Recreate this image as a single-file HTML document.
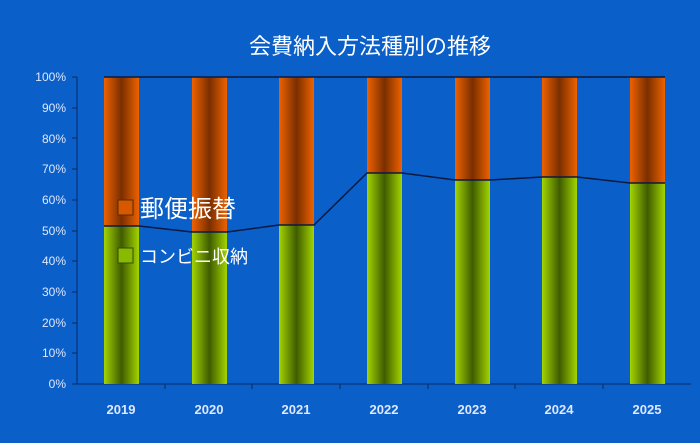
<!DOCTYPE html>
<html><head><meta charset="utf-8"><style>
body{margin:0;background:#0a5fc8;}
svg{display:block;font-family:"Liberation Sans","Noto Sans CJK JP",sans-serif;}
</style></head><body>
<svg width="700" height="443" viewBox="0 0 700 443" xmlns="http://www.w3.org/2000/svg">
<defs>
<linearGradient id="o" x1="0" x2="1" y1="0" y2="0">
<stop offset="0" stop-color="#ee6200"/><stop offset="0.5" stop-color="#7a2e00"/><stop offset="1" stop-color="#ee6200"/></linearGradient>
<linearGradient id="g" x1="0" x2="1" y1="0" y2="0">
<stop offset="0" stop-color="#a4d400"/><stop offset="0.5" stop-color="#3f5c00"/><stop offset="1" stop-color="#a4d400"/></linearGradient>
</defs>
<rect width="700" height="443" fill="#0a5fc8"/>
<text x="370" y="54" fill="#fff" font-size="22" text-anchor="middle">会費納入方法種別の推移</text>
<g fill="#dfe8ff" font-size="12" text-anchor="end">
<text x="66" y="388">0%</text><text x="66" y="357">10%</text><text x="66" y="327">20%</text><text x="66" y="296">30%</text><text x="66" y="265">40%</text><text x="66" y="235">50%</text><text x="66" y="204">60%</text><text x="66" y="173">70%</text><text x="66" y="143">80%</text><text x="66" y="112">90%</text><text x="66" y="81">100%</text>
</g>
<g stroke="#0b2a66" stroke-width="1">
<line x1="77" y1="77" x2="77" y2="384"/><line x1="77" y1="384" x2="691" y2="384"/>
<line x1="72" y1="77" x2="77" y2="77"/><line x1="72" y1="108" x2="77" y2="108"/><line x1="72" y1="138" x2="77" y2="138"/><line x1="72" y1="169" x2="77" y2="169"/><line x1="72" y1="200" x2="77" y2="200"/><line x1="72" y1="231" x2="77" y2="231"/><line x1="72" y1="261" x2="77" y2="261"/><line x1="72" y1="292" x2="77" y2="292"/><line x1="72" y1="323" x2="77" y2="323"/><line x1="72" y1="353" x2="77" y2="353"/><line x1="72" y1="384" x2="77" y2="384"/>
<line x1="165" y1="384" x2="165" y2="389"/><line x1="252" y1="384" x2="252" y2="389"/><line x1="340" y1="384" x2="340" y2="389"/><line x1="428" y1="384" x2="428" y2="389"/><line x1="515" y1="384" x2="515" y2="389"/><line x1="603" y1="384" x2="603" y2="389"/>
</g>
<g>
<rect x="104" y="77" width="35" height="149" fill="url(#o)"/><rect x="104" y="226" width="35" height="158" fill="url(#g)"/>
<rect x="192" y="77" width="35" height="155" fill="url(#o)"/><rect x="192" y="232" width="35" height="152" fill="url(#g)"/>
<rect x="279" y="77" width="35" height="148" fill="url(#o)"/><rect x="279" y="225" width="35" height="159" fill="url(#g)"/>
<rect x="367" y="77" width="35" height="96" fill="url(#o)"/><rect x="367" y="173" width="35" height="211" fill="url(#g)"/>
<rect x="455" y="77" width="35" height="103" fill="url(#o)"/><rect x="455" y="180" width="35" height="204" fill="url(#g)"/>
<rect x="542" y="77" width="35" height="100" fill="url(#o)"/><rect x="542" y="177" width="35" height="207" fill="url(#g)"/>
<rect x="630" y="77" width="35" height="106" fill="url(#o)"/><rect x="630" y="183" width="35" height="201" fill="url(#g)"/>
</g>
<g stroke="#0b1a40" stroke-width="1.5" fill="none">
<polyline points="104,77 665,77"/>
<polyline points="104,226 139,226 192,232 227,232 279,225 314,225 367,173 402,173 455,180 490,180 542,177 577,177 630,183 665,183"/>
</g>
<rect x="118" y="200" width="15" height="15" fill="#d85800" stroke="#5a2a00" stroke-width="1"/>
<text x="140" y="217" fill="#fff" font-size="24">郵便振替</text>
<rect x="118" y="248" width="15" height="15" fill="#88bb00" stroke="#3a4a00" stroke-width="1"/>
<text x="140" y="263" fill="#fff" font-size="18">コンビニ収納</text>
<g fill="#dfe8ff" font-size="13" font-weight="bold" text-anchor="middle">
<text x="121" y="414">2019</text><text x="209" y="414">2020</text><text x="296" y="414">2021</text><text x="384" y="414">2022</text><text x="472" y="414">2023</text><text x="559" y="414">2024</text><text x="647" y="414">2025</text>
</g>
</svg>
</body></html>
